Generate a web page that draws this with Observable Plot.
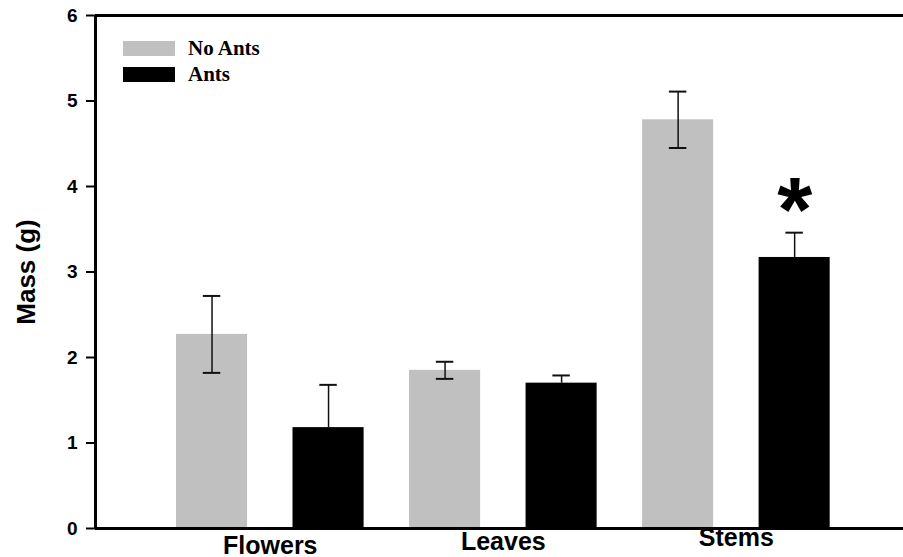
<!DOCTYPE html>
<html><head><meta charset="utf-8">
<script src="https://cdn.jsdelivr.net/npm/d3@7"></script>
<script src="https://cdn.jsdelivr.net/npm/@observablehq/plot@0.6"></script>
<style>
html,body{margin:0;padding:0;background:#fff;overflow:hidden;}
#wrap{position:relative;width:903px;height:557px;overflow:hidden;}
#wrap svg{display:block;width:903px;max-width:none;}
.legend{position:absolute;left:123px;top:41px;font-family:"Liberation Serif","Times New Roman",serif;font-weight:bold;font-size:21px;color:#000;}
.row{display:flex;align-items:center;height:15px;margin-bottom:11px;}
.sw{width:52px;height:15px;margin-right:13px;flex:none;}
.row span{line-height:15px;}
</style></head><body><div id="wrap"></div>
<script>
// ---- data ----
const categories = ["Flowers", "Leaves", "Stems"];
const treatments = ["No Ants", "Ants"];
const noAntsMean = [2.27, 1.85, 4.78];
const noAntsSE   = [0.45, 0.10, 0.33];
const antsMean   = [1.18, 1.70, 3.17];
const antsSE     = [0.50, 0.09, 0.29];
const yTicks = [0, 1, 2, 3, 4, 5, 6];
const significant = [{category: "Stems", treatment: "Ants", label: "*"}];
const colors = ["#c0c0c0", "#000000"];

// ---- build table ----
const rows = [];
categories.forEach((c, i) => {
  rows.push({category: c, treatment: "No Ants", pos: 2 * i, mean: noAntsMean[i], se: noAntsSE[i]});
  rows.push({category: c, treatment: "Ants", pos: 2 * i + 1, mean: antsMean[i], se: antsSE[i]});
});
// lower half of the error bar only shows on the grey bars (it is hidden inside the black ones)
const lowVisible = d => d.treatment === "No Ants";
const caps = rows.flatMap(d => lowVisible(d)
  ? [{pos: d.pos, y: d.mean + d.se}, {pos: d.pos, y: d.mean - d.se}]
  : [{pos: d.pos, y: d.mean + d.se}]);
const sig = significant.map(s => {
  const r = rows.find(d => d.category === s.category && d.treatment === s.treatment);
  return {...r, label: s.label};
});

const halfBar = 0.305, halfCap = 0.075;
const labelDy = [17, 13, 9];
const xMin = -1, xMax = 6.02;

const chart = Plot.plot({
  width: 903,
  height: 557,
  marginLeft: 95,
  marginRight: -10,
  marginTop: 15,
  marginBottom: 29,
  style: {fontFamily: "'Liberation Sans', Arial, sans-serif", background: "white", color: "#000", overflow: "visible", maxWidth: "none"},
  x: {domain: [xMin, xMax], axis: null},
  y: {domain: [0, 6]},
  color: {domain: treatments, range: colors},
  marks: [
    Plot.rectY(rows, {x1: d => d.pos - halfBar, x2: d => d.pos + halfBar, y1: 0, y2: "mean", fill: "treatment"}),
    Plot.ruleX(rows, {x: "pos", y1: d => lowVisible(d) ? d.mean - d.se : d.mean, y2: d => d.mean + d.se, stroke: "#111", strokeWidth: 1.5}),
    Plot.ruleY(caps, {y: "y", x1: d => d.pos - halfCap, x2: d => d.pos + halfCap, stroke: "#111", strokeWidth: 2}),
    Plot.ruleX([xMin], {y1: 0, y2: 6, stroke: "#000", strokeWidth: 3}),
    Plot.ruleY([0, 6], {x1: xMin, x2: xMax, stroke: "#000", strokeWidth: 3}),
    Plot.axisY({ticks: yTicks, tickSize: 9, tickPadding: 9, fontSize: 19, fontWeight: "bold", strokeWidth: 2, label: null, tickFormat: d => String(d)}),
    Plot.text(["Mass (g)"], {frameAnchor: "left", rotate: -90, dx: -69, fontSize: 26, fontWeight: "bold", textAnchor: "middle", lineAnchor: "middle"}),
    ...categories.map((c, i) => Plot.text([c], {x: () => 2 * i + 0.5, frameAnchor: "bottom", dy: labelDy[i], lineAnchor: "middle", fontSize: 25, fontWeight: "bold"})),
    Plot.text(sig, {x: "pos", y: d => d.mean + d.se, text: "label", fontSize: 90, fontWeight: "bold", lineAnchor: "bottom", dy: 8})
  ]
});
const wrap = document.getElementById("wrap");
wrap.appendChild(chart);

const legend = document.createElement("div");
legend.className = "legend";
treatments.forEach((t, i) => {
  const row = document.createElement("div");
  row.className = "row";
  const sw = document.createElement("div");
  sw.className = "sw";
  sw.style.background = colors[i];
  const lab = document.createElement("span");
  lab.textContent = t;
  row.appendChild(sw); row.appendChild(lab);
  legend.appendChild(row);
});
wrap.appendChild(legend);
</script>
</body></html>
